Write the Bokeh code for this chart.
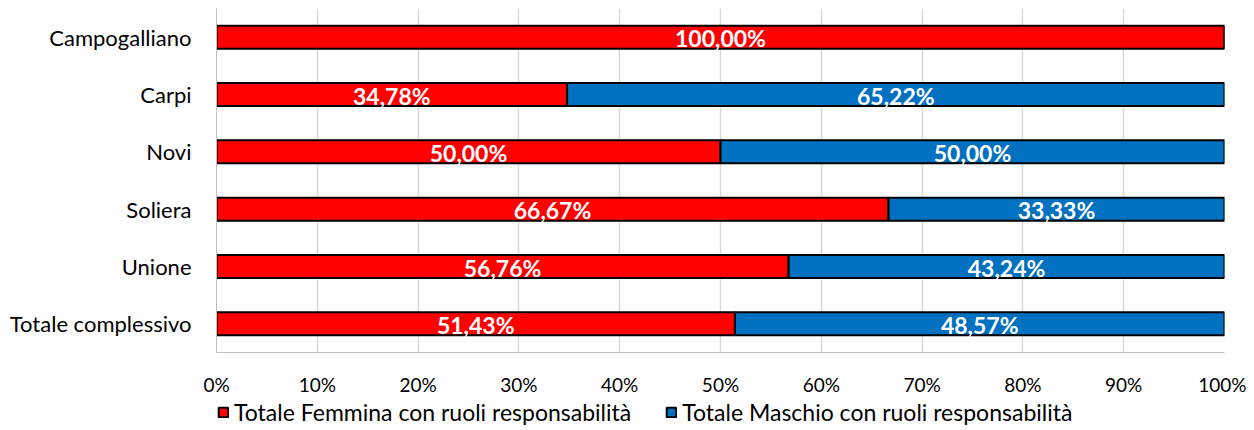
from bokeh.plotting import figure
from bokeh.layouts import column
from bokeh.models import ColumnDataSource, FactorRange, Range1d, NumeralTickFormatter, FixedTicker, Legend, LegendItem, LabelSet
from bokeh.embed import file_html
from bokeh.resources import INLINE
from bokeh.core.properties import value

categories = ["Campogalliano", "Carpi", "Novi", "Soliera", "Unione", "Totale complessivo"]
femmine = [100.00, 34.78, 50.00, 66.67, 56.76, 51.43]
maschi = [0.00, 65.22, 50.00, 33.33, 43.24, 48.57]
series_names = ["Totale Femmina con ruoli responsabilità", "Totale Maschio con ruoli responsabilità"]
colors = ["#FF0000", "#0070C0"]

FONT = "Lato"

f_frac = [v / 100 for v in femmine]
m_frac = [v / 100 for v in maschi]
src = ColumnDataSource(dict(
    cat=categories, f=f_frac, m=m_frac,
    f_mid=[v / 2 for v in f_frac],
    m_mid=[a + b / 2 for a, b in zip(f_frac, m_frac)],
    f_lab=[("%.2f%%" % v).replace(".", ",") if v > 0 else "" for v in femmine],
    m_lab=[("%.2f%%" % v).replace(".", ",") if v > 0 else "" for v in maschi],
))

p = figure(width=1246, height=398, output_backend="svg", toolbar_location=None,
           y_range=FactorRange(*reversed(categories)), x_range=Range1d(0, 1),
           min_border_left=216, min_border_right=22, min_border_top=8, min_border_bottom=46)

rs = p.hbar_stack(["f", "m"], y="cat", height=0.4, source=src, color=colors,
                  line_color="black", line_width=2)

for col, lab in (("f_mid", "f_lab"), ("m_mid", "m_lab")):
    p.add_layout(LabelSet(x=col, y="cat", text=lab, source=src, text_align="center",
                          text_baseline="middle", text_color="white", text_font=value(FONT),
                          text_font_style="bold", text_font_size="23px", y_offset=-1))

p.xaxis.ticker = FixedTicker(ticks=[i / 10 for i in range(11)])
p.xaxis.formatter = NumeralTickFormatter(format="0%")
p.xaxis.major_tick_line_color = None
p.xaxis.minor_tick_line_color = None
p.xaxis.axis_line_color = "#BFBFBF"
p.xaxis.major_label_standoff = 14
p.xaxis.major_label_text_font = FONT
p.xaxis.major_label_text_font_size = "19px"
p.xaxis.major_label_text_color = "#000000"

p.yaxis.major_tick_line_color = None
p.yaxis.minor_tick_line_color = None
p.yaxis.axis_line_color = "#BFBFBF"
p.yaxis.major_label_standoff = 19
p.yaxis.major_label_text_font = FONT
p.yaxis.major_label_text_font_size = "22px"
p.yaxis.major_label_text_color = "#000000"

p.xgrid.grid_line_color = "#D9D9D9"
p.xgrid.grid_line_width = 1.5
p.ygrid.grid_line_color = None
p.outline_line_color = None

# legend strip below the chart (its frame is aligned with the chart frame by the column)
lg = figure(width=1246, height=32, output_backend="svg", toolbar_location=None,
            x_range=Range1d(0, 1), y_range=Range1d(0, 1),
            min_border_left=216, min_border_right=22, min_border_top=0, min_border_bottom=0)
lg.axis.visible = False
lg.grid.grid_line_color = None
lg.outline_line_color = None
empty = ColumnDataSource(dict(x=[float("nan")], y=[float("nan")]))
dummies = [lg.vbar(x="x", top="y", width=0.1, source=empty, fill_color=c,
                   line_color="black", line_width=2) for c in colors]
legend = Legend(items=[LegendItem(label=series_names[i], renderers=[dummies[i]]) for i in range(2)],
                orientation="horizontal", border_line_alpha=0, background_fill_alpha=0,
                label_text_font=FONT, label_text_font_size="23px", label_text_color="#000000",
                glyph_width=12, glyph_height=12, spacing=34, label_standoff=5,
                padding=0, margin=0, label_height=24, location=(1, 4))
lg.add_layout(legend, "center")

layout = column(p, lg, spacing=0)
open("out.html", "w").write(file_html(layout, INLINE))
